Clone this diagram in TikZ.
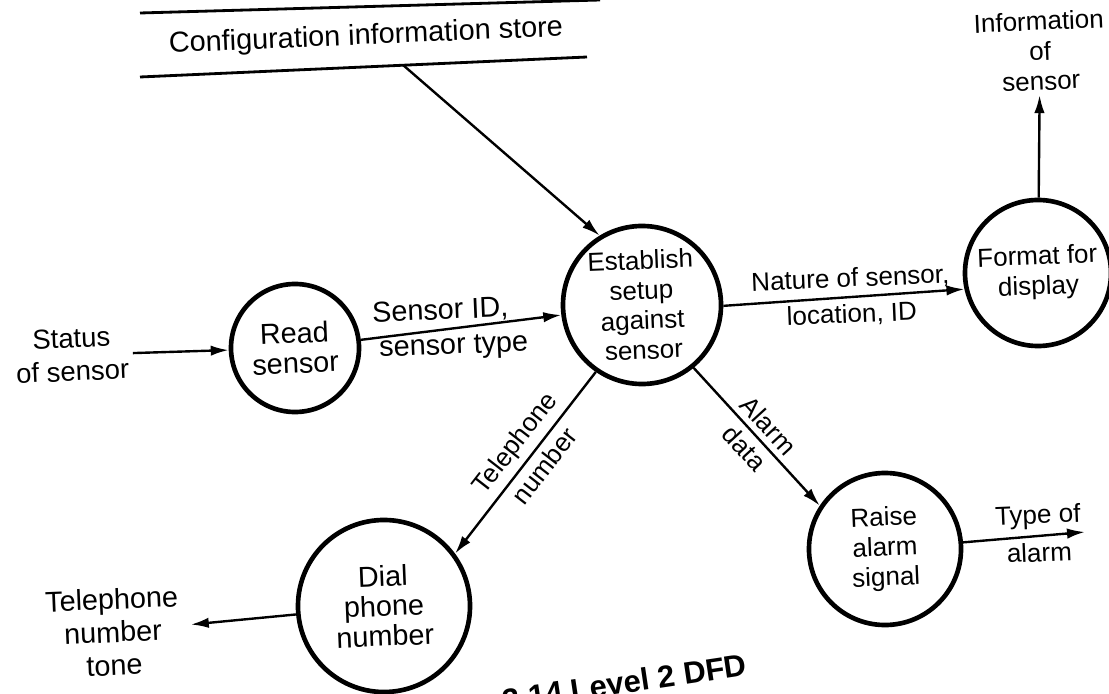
\documentclass[tikz,border=0pt]{standalone}
\usepackage{fontspec}
\setmainfont{Liberation Sans}
\usetikzlibrary{shapes,arrows.meta,positioning}
\newcommand{\dfdfont}{\fontsize{18.5}{21.3}\selectfont}
\newcommand{\dfdbig}{\fontsize{20.5}{21.3}\selectfont}
\newcommand{\dfdloose}{\fontsize{20.5}{23.5}\selectfont}
\tikzset{process/.style={circle, draw, line width=3.3pt, inner sep=0pt, align=center, font=\dfdfont, rotate=2.4}}
\tikzset{extern/.style={rectangle, align=center, font=\dfdloose, inner sep=3pt, rotate=2.4}}
\tikzset{flowtext/.style={align=center, font=\dfdfont, inner sep=4pt}}
\tikzset{line/.style={draw, line width=1.7pt, -{Latex[length=4.5mm,width=2.6mm]}}}
\tikzset{store/.style={draw, line width=2pt}}

\begin{document}
\begin{tikzpicture}[x=0.025cm, y=-0.025cm]
        \useasboundingbox (0,0) rectangle (1109,694);

        % data store
        \path[store] (140,13) -- (600,0);
        \path[store] (140,77) -- (587,57);
        \node[extern, font=\dfdbig] (cfgs) at (366,37) {Configuration information store};
        \coordinate     (cfgo) at (403,65);

        % processes
        \node[process, minimum size=3.2cm, font=\dfdbig] (rdsn) at (295,348) {Read\\sensor};
        \node[process, minimum size=3.95cm] (esta) at (642,305) {Establish\\setup\\against\\sensor};
        \node[process, minimum size=3.65cm] (frmt) at (1038,273) {Format for\\display};
        \node[process, minimum size=3.8cm]  (rais) at (885,549) {Raise\\alarm\\signal};
        \node[process, minimum size=4.3cm, font=\dfdbig] (dial) at (384,606) {Dial\\phone\\number};

        % sources and sinks
        \node[extern, font=\fontsize{19.5}{23.5}\selectfont] (stat) at (72,355)  {Status\\of sensor};
        \node[extern, font=\dfdfont]   (info) at (1040,51) {Information\\of\\sensor};
        \node[extern, inner xsep=8pt]  (tone) at (113,632) {Telephone\\number\\tone};
        \coordinate                    (typo) at (1085,532);

        \path[line] (stat) --          (rdsn);
        \path[line] (cfgo) --          (esta.119);
        \path[line] (rdsn) -- node[flowtext, font=\dfdbig, above, pos=0.4, rotate=2.4] {Sensor ID,}
                              node[flowtext, font=\dfdbig, below, pos=0.46, rotate=2.4] {sensor type} (esta);
        \path[line] (esta.-3) -- node[flowtext, above, pos=0.53, rotate=2.4] {Nature of sensor,}
                                 node[flowtext, below, pos=0.53, rotate=2.4] {location, ID} (frmt.190);
        \path[line] (frmt) --          (info);
        \path[line] (esta.-53) -- node[flowtext, sloped, above, pos=0.5] {Alarm}
                                  node[flowtext, sloped, below, pos=0.5] {data} (rais.144);
        \path[line] (esta.-127) -- node[flowtext, sloped, above, pos=0.46] {Telephone}
                                   node[flowtext, sloped, below, pos=0.46] {number} (dial.34);
        \path[line] (rais) -- node[flowtext, above, pos=0.62, rotate=2.4] {Type of}
                              node[flowtext, below, pos=0.62, rotate=2.4] {alarm} (typo);
        \path[line] (dial) --          (tone);

        \node[font=\fontsize{22}{26}\selectfont\bfseries, rotate=8.5, anchor=base west] (capt) at (500,712) {3.14 Level 2 DFD};
      \end{tikzpicture}
\end{document}
